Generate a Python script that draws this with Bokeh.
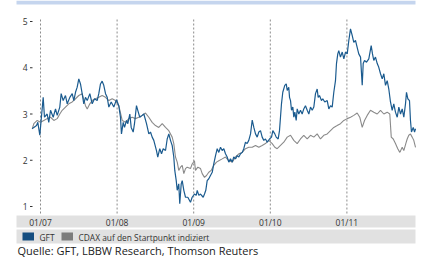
from bokeh.plotting import figure
from bokeh.models import Range1d
from bokeh.core.properties import value
from bokeh.embed import file_html
from bokeh.resources import INLINE

# ---------------- data (decimal year, value) ----------------
gft_t = [2006.892, 2006.913, 2006.948, 2006.965, 2006.991, 2007.035, 2007.052, 2007.087, 2007.108, 2007.131,
         2007.166, 2007.196, 2007.218, 2007.252, 2007.270, 2007.296, 2007.326, 2007.349, 2007.383, 2007.414,
         2007.435, 2007.457, 2007.479, 2007.500, 2007.522, 2007.544, 2007.565, 2007.587, 2007.610, 2007.644,
         2007.675, 2007.705, 2007.740, 2007.761, 2007.783, 2007.805, 2007.826, 2007.849, 2007.871, 2007.892,
         2007.923, 2007.957, 2007.992, 2008.022, 2008.044, 2008.057, 2008.080, 2008.097, 2008.123, 2008.140,
         2008.166, 2008.184, 2008.210, 2008.227, 2008.253, 2008.270, 2008.296, 2008.328, 2008.349, 2008.384,
         2008.414, 2008.436, 2008.458, 2008.479, 2008.514, 2008.531, 2008.557, 2008.580, 2008.602, 2008.632,
         2008.654, 2008.675, 2008.697, 2008.719, 2008.740, 2008.753, 2008.772, 2008.785, 2008.805, 2008.818,
         2008.837, 2008.850, 2008.871, 2008.893, 2008.923, 2008.958, 2008.980, 2009.010, 2009.033, 2009.046,
         2009.067, 2009.089, 2009.124, 2009.141, 2009.158, 2009.176, 2009.197, 2009.219, 2009.242, 2009.262,
         2009.285, 2009.307, 2009.328, 2009.350, 2009.372, 2009.393, 2009.415, 2009.437, 2009.458, 2009.480,
         2009.503, 2009.523, 2009.546, 2009.568, 2009.589, 2009.611, 2009.633, 2009.654, 2009.676, 2009.698,
         2009.719, 2009.742, 2009.764, 2009.785, 2009.807, 2009.829, 2009.850, 2009.872, 2009.894, 2009.915,
         2009.937, 2009.960, 2009.990, 2010.016, 2010.033, 2010.059, 2010.077, 2010.103, 2010.120, 2010.133,
         2010.146, 2010.163, 2010.189, 2010.208, 2010.221, 2010.241, 2010.251, 2010.264, 2010.277, 2010.294,
         2010.307, 2010.320, 2010.338, 2010.351, 2010.372, 2010.394, 2010.416, 2010.437, 2010.459, 2010.482,
         2010.503, 2010.525, 2010.547, 2010.568, 2010.590, 2010.612, 2010.625, 2010.642, 2010.668, 2010.685,
         2010.711, 2010.743, 2010.764, 2010.786, 2010.808, 2010.829, 2010.851, 2010.864, 2010.881, 2010.894,
         2010.916, 2010.939, 2010.960, 2010.982, 2011.004, 2011.025, 2011.047, 2011.069, 2011.090, 2011.112,
         2011.134, 2011.155, 2011.178, 2011.200, 2011.213, 2011.230, 2011.256, 2011.286, 2011.317, 2011.334,
         2011.351, 2011.373, 2011.396, 2011.416, 2011.439, 2011.461, 2011.482, 2011.504, 2011.526, 2011.547,
         2011.569, 2011.591, 2011.612, 2011.634, 2011.657, 2011.678, 2011.700, 2011.722, 2011.743, 2011.765,
         2011.778, 2011.795, 2011.817, 2011.830, 2011.843, 2011.866, 2011.883, 2011.896]
gft_v = [2.68, 2.71, 2.75, 2.82, 2.54, 3.36, 2.93, 3.00, 2.82, 3.08,
         2.93, 3.11, 2.97, 3.15, 3.44, 3.29, 3.40, 3.22, 3.36, 3.44,
         3.29, 3.47, 3.58, 3.76, 3.65, 3.44, 3.22, 3.36, 3.29, 3.44,
         3.22, 3.33, 3.29, 3.44, 3.65, 3.71, 3.62, 3.44, 3.36, 3.15,
         3.26, 3.15, 3.31, 3.18, 2.93, 2.57, 2.82, 2.71, 2.86, 2.79,
         3.00, 2.71, 2.61, 2.79, 3.18, 3.08, 2.93, 2.97, 3.00, 2.79,
         2.57, 2.61, 2.50, 2.43, 2.21, 2.07, 2.25, 2.14, 2.25, 2.21,
         2.46, 2.57, 2.43, 2.32, 2.07, 1.78, 1.56, 1.35, 1.49, 1.06,
         1.49, 1.56, 1.35, 1.20, 1.20, 1.09, 1.20, 1.27, 1.24, 1.35,
         1.24, 1.27, 1.20, 1.27, 1.35, 1.56, 1.60, 1.67, 1.74, 1.92,
         2.10, 2.25, 2.17, 2.28, 2.21, 2.25, 2.14, 2.07, 1.96, 2.03,
         1.96, 2.07, 2.03, 2.10, 2.07, 2.14, 2.17, 2.25, 2.39, 2.36,
         2.43, 2.57, 2.87, 2.71, 2.57, 2.50, 2.61, 2.64, 2.50, 2.43,
         2.46, 2.39, 2.46, 2.50, 2.64, 2.57, 2.50, 2.46, 2.64, 2.93,
         3.22, 3.47, 3.62, 3.65, 3.51, 3.58, 3.36, 3.29, 3.08, 3.15,
         2.93, 3.04, 2.86, 3.11, 3.00, 3.08, 3.00, 3.11, 3.18, 3.08,
         3.00, 3.15, 3.08, 3.15, 3.44, 3.54, 3.36, 3.40, 3.29, 3.33,
         3.26, 3.29, 3.11, 3.18, 3.15, 3.47, 3.72, 4.09, 4.30, 4.37,
         4.23, 4.34, 4.19, 4.34, 4.30, 4.59, 4.84, 4.70, 4.55, 4.59,
         4.44, 4.30, 4.23, 3.62, 4.09, 4.16, 4.12, 4.19, 4.48, 4.30,
         4.16, 4.23, 4.09, 4.01, 3.87, 3.76, 3.87, 3.62, 3.72, 3.54,
         3.26, 3.08, 3.22, 3.04, 2.93, 3.15, 3.00, 3.11, 2.93, 3.22,
         3.47, 3.33, 3.29, 2.86, 2.61, 2.71, 2.61, 2.68]

cdax_t = [2006.892, 2006.913, 2006.957, 2007.000, 2007.043, 2007.087, 2007.131, 2007.174, 2007.218, 2007.252,
          2007.283, 2007.326, 2007.369, 2007.414, 2007.457, 2007.500, 2007.544, 2007.587, 2007.610, 2007.644,
          2007.675, 2007.718, 2007.761, 2007.805, 2007.849, 2007.892, 2007.936, 2007.979, 2008.022, 2008.067,
          2008.110, 2008.153, 2008.197, 2008.240, 2008.283, 2008.328, 2008.371, 2008.414, 2008.458, 2008.501,
          2008.544, 2008.589, 2008.632, 2008.675, 2008.719, 2008.740, 2008.762, 2008.785, 2008.805, 2008.828,
          2008.850, 2008.871, 2008.893, 2008.915, 2008.958, 2008.980, 2009.010, 2009.023, 2009.054, 2009.089,
          2009.111, 2009.141, 2009.167, 2009.197, 2009.228, 2009.262, 2009.298, 2009.328, 2009.372, 2009.415,
          2009.458, 2009.503, 2009.546, 2009.589, 2009.633, 2009.676, 2009.719, 2009.764, 2009.807, 2009.850,
          2009.894, 2009.937, 2009.980, 2010.025, 2010.059, 2010.090, 2010.133, 2010.176, 2010.221, 2010.264,
          2010.307, 2010.351, 2010.394, 2010.437, 2010.482, 2010.525, 2010.568, 2010.612, 2010.655, 2010.698,
          2010.743, 2010.786, 2010.829, 2010.873, 2010.916, 2010.960, 2011.004, 2011.047, 2011.090, 2011.134,
          2011.168, 2011.200, 2011.230, 2011.265, 2011.308, 2011.351, 2011.396, 2011.439, 2011.482, 2011.526,
          2011.560, 2011.579, 2011.605, 2011.634, 2011.664, 2011.691, 2011.722, 2011.743, 2011.769, 2011.787,
          2011.808, 2011.830, 2011.852, 2011.873, 2011.896]
cdax_v = [2.68, 2.79, 2.86, 2.82, 2.86, 2.90, 2.93, 2.86, 2.90, 3.00,
          3.08, 3.15, 3.22, 3.26, 3.33, 3.40, 3.44, 3.18, 3.11, 3.22,
          3.29, 3.33, 3.36, 3.40, 3.36, 3.29, 3.33, 3.29, 3.18, 2.86,
          2.82, 2.90, 2.93, 2.90, 2.93, 2.97, 3.02, 2.93, 2.82, 2.75,
          2.71, 2.79, 2.71, 2.64, 2.50, 2.36, 2.07, 1.96, 1.78, 1.85,
          1.89, 1.71, 1.82, 1.85, 1.82, 1.92, 1.99, 1.78, 1.85, 1.82,
          1.71, 1.63, 1.67, 1.74, 1.78, 1.89, 1.96, 1.99, 2.03, 2.07,
          1.99, 1.96, 2.07, 2.14, 2.17, 2.25, 2.28, 2.28, 2.32, 2.28,
          2.32, 2.36, 2.43, 2.36, 2.28, 2.25, 2.32, 2.39, 2.50, 2.54,
          2.43, 2.36, 2.46, 2.54, 2.46, 2.54, 2.50, 2.57, 2.46, 2.54,
          2.57, 2.64, 2.71, 2.75, 2.79, 2.86, 2.90, 2.93, 2.97, 3.02,
          2.93, 2.71, 2.86, 2.97, 3.08, 3.04, 3.00, 3.08, 3.00, 3.04,
          3.00, 2.50, 2.46, 2.36, 2.25, 2.17, 2.28, 2.21, 2.36, 2.46,
          2.54, 2.57, 2.50, 2.43, 2.28]

y_ticks = [1, 2, 3, 4, 5]
x_tick_years = [2007, 2008, 2009, 2010, 2011]
x_tick_labels = ["01/07", "01/08", "01/09", "01/10", "01/11"]
series_names = ["GFT", "CDAX auf den Startpunkt indiziert"]
source_text = "Quelle: GFT, LBBW Research, Thomson Reuters"

# ---------------- layout (pixels of the 428x257 picture) ----------------
W, H = 428, 257
PX_YEAR = 76.6            # pixels per year
X_2007 = 40.0             # picture x of 01/07
Y_5, PX_UNIT = 21.0, 46.25  # picture y of value 5, pixels per unit


def tx(px):
    return 2007 + (px - X_2007) / PX_YEAR


def vy(py):
    return 5 - (py - Y_5) / PX_UNIT


FONT = value("Open Sans")
BLUE = "#1b5b8f"
GRAY = "#8a8a8a"
BAND = "#e1e1e1"
TXT = "#333333"

p = figure(width=W, height=H, x_range=Range1d(tx(0), tx(W)), y_range=Range1d(vy(H), vy(0)),
           x_axis_location=None, y_axis_location=None, min_border=0, toolbar_location=None,
           output_backend="svg", outline_line_color=None, background_fill_color="white",
           border_fill_color="white")
p.grid.grid_line_color = None

# top light-blue bar
p.quad(left=[tx(16)], right=[tx(415)], top=[vy(0)], bottom=[vy(4)], color="#c5d5ee", line_color=None)

# vertical dotted year lines
p.segment(x0=x_tick_years, x1=x_tick_years, y0=[vy(19)] * 5, y1=[vy(214)] * 5,
          line_color="#8c8c8c", line_dash="2 2", line_width=1)

# y ticks and labels
p.segment(x0=[tx(29.5)] * len(y_ticks), x1=[tx(32)] * len(y_ticks), y0=y_ticks, y1=y_ticks,
          line_color=TXT, line_width=1)
p.text(x=[tx(27)] * len(y_ticks), y=y_ticks, text=[str(t) for t in y_ticks], text_font=FONT,
       text_font_size="8.5px", text_align="right", text_baseline="middle", text_color=TXT)

# series
p.line(cdax_t, cdax_v, line_color=GRAY, line_width=1.1)
p.line(gft_t, gft_v, line_color=BLUE, line_width=1.2)

# x axis band and labels
p.quad(left=[tx(16)], right=[tx(415)], top=[vy(215)], bottom=[vy(227)], color=BAND, line_color=None)
p.text(x=x_tick_years, y=[vy(221.5)] * 5, text=x_tick_labels, text_font=FONT, text_font_size="8.5px",
       text_align="center", text_baseline="middle", text_color=TXT)

# legend band
p.quad(left=[tx(16)], right=[tx(415)], top=[vy(229)], bottom=[vy(243)], color=BAND, line_color=None)
p.quad(left=[tx(22), tx(61)], right=[tx(33.5), tx(72.5)], top=[vy(232)] * 2, bottom=[vy(240)] * 2,
       color=["#144d80", "#7c7c7c"], line_color=None)
p.text(x=[tx(39), tx(78)], y=[vy(236.5)] * 2, text=series_names, text_font=FONT, text_font_size="8.4px",
       text_align="left", text_baseline="middle", text_color=TXT)

# source line
p.text(x=[tx(17)], y=[vy(249.5)], text=[source_text], text_font=FONT, text_font_size="11px",
       text_align="left", text_baseline="middle", text_color="#222222")

open("out.html", "w").write(file_html(p, INLINE))
